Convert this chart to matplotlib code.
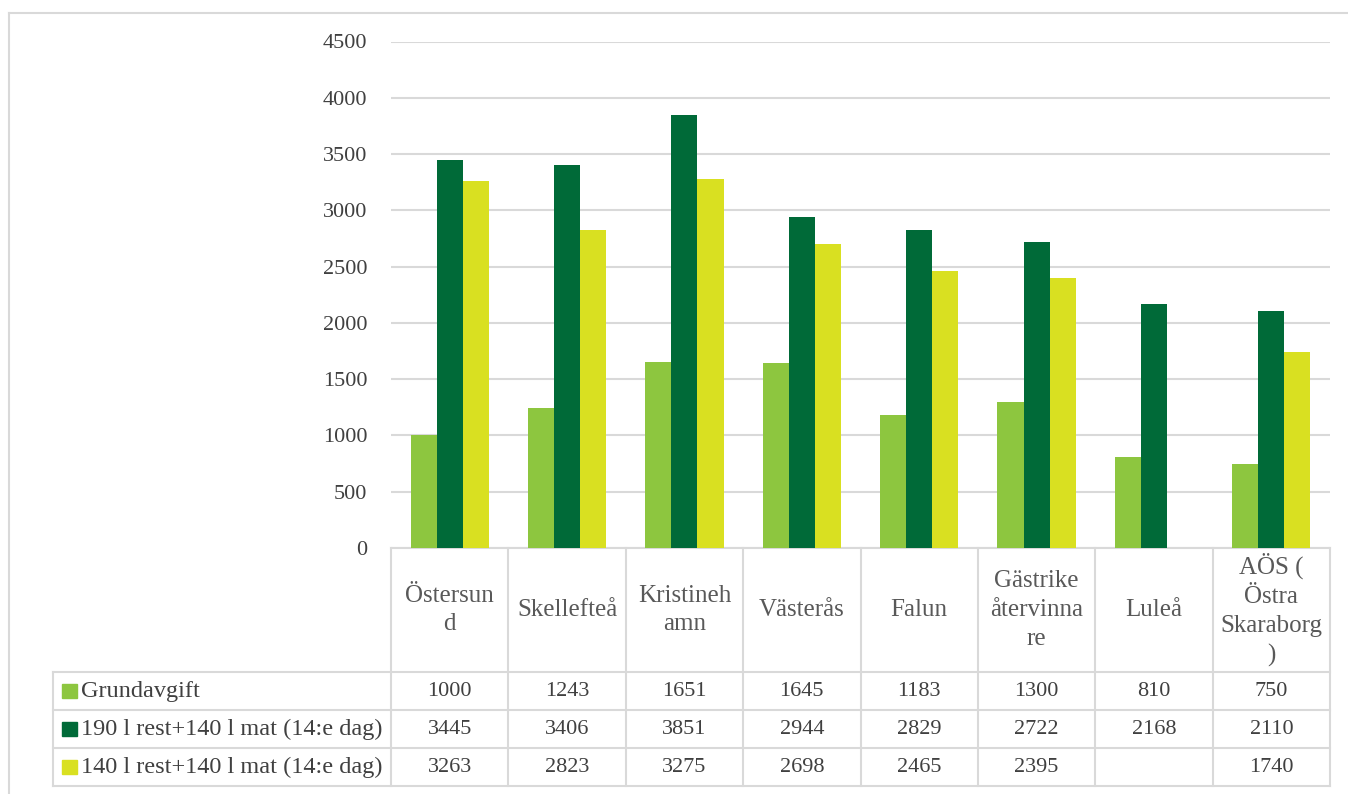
import numpy as np
import matplotlib
matplotlib.use("Agg")
import matplotlib.pyplot as plt
from matplotlib.lines import Line2D
from matplotlib.patches import Rectangle

# ---------- data ----------
categories = ["Östersun\nd", "Skellefteå", "Kristineh\namn", "Västerås", "Falun",
              "Gästrike\nåtervinna\nre", "Luleå", "AÖS (\nÖstra\nSkaraborg\n)"]
series_names = ["Grundavgift", "190 l rest+140 l mat (14:e dag)", "140 l rest+140 l mat (14:e dag)"]
grundavgift = [1000, 1243, 1651, 1645, 1183, 1300, 810, 750]
rest190 = [3445, 3406, 3851, 2944, 2829, 2722, 2168, 2110]
rest140 = [3263, 2823, 3275, 2698, 2465, 2395, None, 1740]
yticks = [0, 500, 1000, 1500, 2000, 2500, 3000, 3500, 4000, 4500]
colors = ["#8DC63F", "#006A38", "#D9E021"]

FONT = "Liberation Serif"
GRID = "#D9D9D9"
TXT = "#404040"

W, H = 1348, 794
fig = plt.figure(figsize=(W / 100, H / 100), dpi=100)

def fx(px): return px / W
def fy(py): return 1 - py / H

# ---------- main bar axes ----------
L, R, T, B = 391, 1330, 41.5, 548
ax = fig.add_axes([fx(L), fy(B), fx(R) - fx(L), fy(T) - fy(B)])
n = len(categories)
x = np.arange(n)
bw = 0.222
for k, vals in enumerate([grundavgift, rest190, rest140]):
    xs = [xi + (k - 1) * bw for xi, v in zip(x, vals) if v is not None]
    vs = [v for v in vals if v is not None]
    ax.bar(xs, vs, width=bw, color=colors[k], zorder=3)
ax.set_xlim(-0.5, n - 0.5)
ax.set_ylim(0, 4500)
ax.set_yticks(yticks)
ax.set_yticklabels([str(t) for t in yticks], fontfamily=FONT, fontsize=16, color=TXT)
ax.tick_params(axis="y", length=0, pad=17)
ax.set_xticks([])
ax.yaxis.grid(True, color=GRID, lw=1.5, zorder=0)
for s in ["top", "right", "left"]:
    ax.spines[s].set_visible(False)
ax.spines["bottom"].set_color(GRID)
ax.spines["bottom"].set_linewidth(1.5)

# ---------- data table under the chart ----------
TL, TB = 53, 786
tab = fig.add_axes([fx(TL), fy(TB), fx(R) - fx(TL), fy(B) - fy(TB)])
cw = (R - L) / n
tab.set_xlim(-0.5 - (L - TL) / cw, n - 0.5)
tab.set_ylim(TB - B, 0)
tab.axis("off")
hdr = 124
rh = 38
lw = 1.5
x0 = tab.get_xlim()[0]
# column lines
for i in range(n + 1):
    tab.add_line(Line2D([i - 0.5, i - 0.5], [0, hdr + 3 * rh], color=GRID, lw=lw, clip_on=False))
tab.add_line(Line2D([x0, x0], [hdr, hdr + 3 * rh], color=GRID, lw=lw, clip_on=False))
for j in range(4):
    y0 = hdr + j * rh
    tab.add_line(Line2D([x0, n - 0.5], [y0, y0], color=GRID, lw=lw, clip_on=False))
# header texts
for i, c in enumerate(categories):
    tab.text(i, hdr / 2, c, ha="center", va="center", fontfamily=FONT, fontsize=18,
             color="#595959", linespacing=1.4)
# rows
for j, (name, vals) in enumerate(zip(series_names, [grundavgift, rest190, rest140])):
    yc = hdr + j * rh + rh / 2
    tab.add_patch(Rectangle((x0 + 9 / cw, yc - 7), 15 / cw, 14, color=colors[j], clip_on=False))
    tab.text(x0 + 28 / cw, yc, name, ha="left", va="center", fontfamily=FONT, fontsize=17.5, color=TXT)
    for i, v in enumerate(vals):
        if v is not None:
            tab.text(i, yc, str(v), ha="center", va="center", fontfamily=FONT, fontsize=16, color=TXT)

# outer frame (left + top)
fig.add_artist(Line2D([fx(9), fx(9)], [0, fy(13)], color=GRID, lw=1.5))
fig.add_artist(Line2D([fx(9), fx(1347)], [fy(13), fy(13)], color=GRID, lw=1.5))

fig.savefig("out.png", dpi=100)
